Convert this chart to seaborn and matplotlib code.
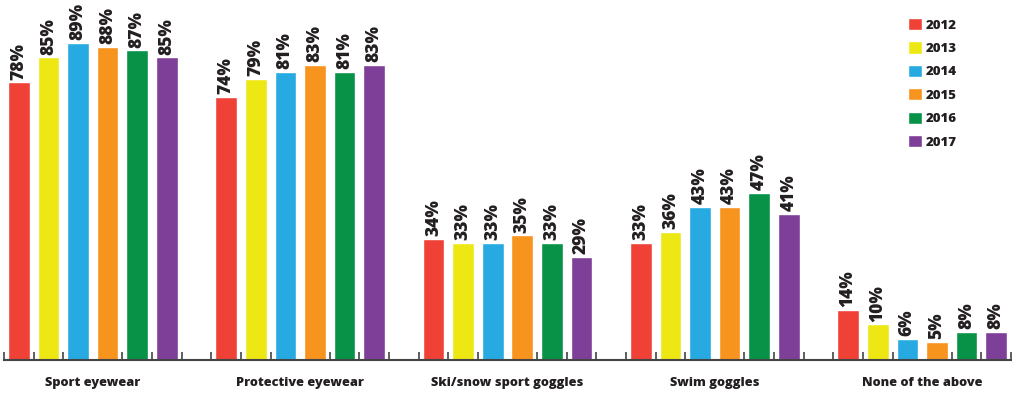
import pandas as pd
import seaborn as sns
import matplotlib.pyplot as plt
import numpy as np

categories = ['Sport eyewear', 'Protective eyewear', 'Ski/snow sport goggles',
              'Swim goggles', 'None of the above']
years = ['2012', '2013', '2014', '2015', '2016', '2017']
values_2012 = [78, 74, 34, 33, 14]
values_2013 = [85, 79, 33, 36, 10]
values_2014 = [89, 81, 33, 43, 6]
values_2015 = [88, 83, 35, 43, 5]
values_2016 = [87, 81, 33, 47, 8]
values_2017 = [85, 83, 29, 41, 8]
colors = ['#EF4136', '#EDE813', '#27AAE1', '#F7941D', '#079247', '#7E3F98']

series = [values_2012, values_2013, values_2014, values_2015, values_2016, values_2017]
rows = []
for yr, vals in zip(years, series):
    for cat, v in zip(categories, vals):
        rows.append({'Category': cat, 'Year': yr, 'Share': v})
df = pd.DataFrame(rows)

sns.set_style('white')
plt.rcParams['font.family'] = ['Open Sans', 'DejaVu Sans']
text_color = '#231F20'

fig = plt.figure(figsize=(10.24, 4.03), dpi=100)
ax = fig.add_axes([4 / 1024, 43 / 403, 1007 / 1024, 356 / 403])

n = len(years)
group_w = n / (n + 1)
sns.barplot(data=df, x='Category', y='Share', hue='Year', order=categories,
            hue_order=years, palette=colors, width=group_w, gap=0.27,
            saturation=1, ax=ax, legend=True)

for cont in ax.containers:
    ax.bar_label(cont, labels=[f'{int(v)}%' for v in cont.datavalues],
                 rotation=90, padding=2, fontsize=12.5, fontweight='heavy',
                 color=text_color)

ax.set_xlim(-group_w / 2, len(categories) - 1 + group_w / 2)
ax.set_ylim(0, 100)

# slot boundary ticks
slot = 1 / (n + 1)
n_slots = len(categories) * (n + 1) - 1
ax.set_xticks(-group_w / 2 + slot * np.arange(n_slots + 1), minor=True)
ax.tick_params(axis='x', which='minor', direction='in', length=6, width=1.2,
               color='#444444', bottom=True)
ax.tick_params(axis='x', which='major', length=0, pad=12, labelsize=9.2,
               labelcolor=text_color)
for lbl in ax.get_xticklabels():
    lbl.set_fontweight('heavy')

ax.set_xlabel('')
ax.set_ylabel('')
ax.set_yticks([])
for s in ['top', 'right', 'left']:
    ax.spines[s].set_visible(False)
ax.spines['bottom'].set_color('#444444')
ax.spines['bottom'].set_linewidth(1.5)

handles, labels = ax.get_legend_handles_labels()
ax.legend(handles, labels, loc='upper left', bbox_to_anchor=(908 / 1024, 1 - 18 / 403),
          bbox_transform=fig.transFigure, frameon=False, borderaxespad=0,
          handlelength=1.05, handleheight=1.05, labelspacing=0.74, handletextpad=0.3,
          borderpad=0, prop={'weight': 'heavy', 'size': 9.5})
for t in ax.get_legend().get_texts():
    t.set_color(text_color)

fig.savefig('out.png', dpi=100)
